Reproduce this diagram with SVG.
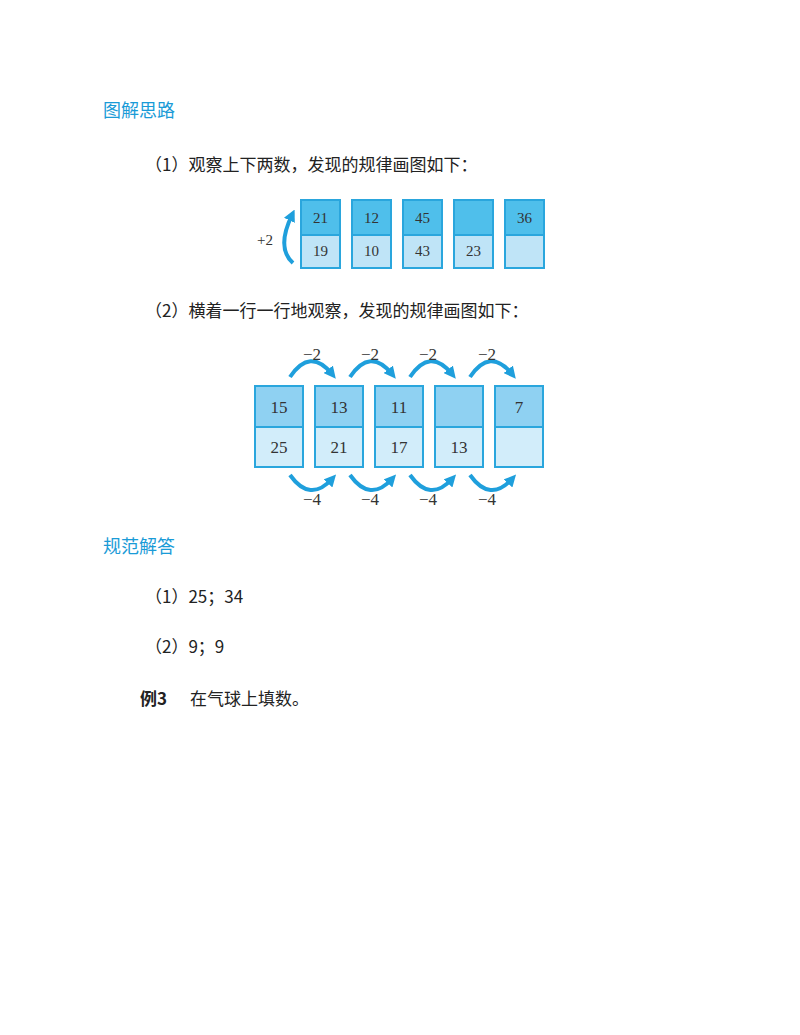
<svg xmlns="http://www.w3.org/2000/svg" width="800" height="1035" viewBox="0 0 800 1035">
<style>
.h{font-family:"Noto Sans CJK SC",sans-serif;font-size:18px;fill:#1a9bd7}
.t{font-family:"Noto Sans CJK SC",sans-serif;font-size:17px;fill:#222}
.n{font-family:"Liberation Serif",serif;font-size:15px;fill:#333;text-anchor:middle}
.m{font-family:"Liberation Serif",serif;font-size:17px;fill:#333;text-anchor:middle}
.a{fill:none;stroke:#1f9fdc;stroke-width:4}
.d1{fill:#4fbfeb;stroke:#2aa6dd;stroke-width:2}
.l1{fill:#bfe4f7;stroke:#2aa6dd;stroke-width:2}
.d2{fill:#8fd1f2;stroke:#2aa6dd;stroke-width:2}
.l2{fill:#d2edfa;stroke:#2aa6dd;stroke-width:2}
</style>
<defs><marker id="ah" viewBox="0 0 10 10" refX="5" refY="5" markerWidth="3" markerHeight="3" orient="auto"><path d="M0,0L10,5L0,10z" fill="#1f9fdc"/></marker></defs>
<rect width="800" height="1035" fill="#fff"/>
<text class="h" x="103" y="117">图解思路</text>
<text class="t" x="145" y="171">（1）观察上下两数，发现的规律画图如下：</text>
<g id="top">
<g id="t1"><rect class="d1" x="301" y="200" width="39" height="35"/><rect class="l1" x="301" y="235" width="39" height="33"/><text class="n" x="320.5" y="223">21</text><text class="n" x="320.5" y="256">19</text></g>
<g id="t2"><rect class="d1" x="352" y="200" width="39" height="35"/><rect class="l1" x="352" y="235" width="39" height="33"/><text class="n" x="371.5" y="223">12</text><text class="n" x="371.5" y="256">10</text></g>
<g id="t3"><rect class="d1" x="403" y="200" width="39" height="35"/><rect class="l1" x="403" y="235" width="39" height="33"/><text class="n" x="422.5" y="223">45</text><text class="n" x="422.5" y="256">43</text></g>
<g id="t4"><rect class="d1" x="454" y="200" width="39" height="35"/><rect class="l1" x="454" y="235" width="39" height="33"/><text class="n" x="473.5" y="256">23</text></g>
<g id="t5"><rect class="d1" x="505" y="200" width="39" height="35"/><rect class="l1" x="505" y="235" width="39" height="33"/><text class="n" x="524.5" y="223">36</text></g>
</g>
<text class="n" x="265" y="245">+2</text>
<text class="t" x="145" y="317">（2）横着一行一行地观察，发现的规律画图如下：</text>
<g id="bottom">
<g id="b1"><rect class="d2" x="255" y="386" width="48" height="41"/><rect class="l2" x="255" y="427" width="48" height="40"/><text class="m" x="279" y="413">15</text><text class="m" x="279" y="453">25</text></g>
<g id="b2"><rect class="d2" x="315" y="386" width="48" height="41"/><rect class="l2" x="315" y="427" width="48" height="40"/><text class="m" x="339" y="413">13</text><text class="m" x="339" y="453">21</text></g>
<g id="b3"><rect class="d2" x="375" y="386" width="48" height="41"/><rect class="l2" x="375" y="427" width="48" height="40"/><text class="m" x="399" y="413">11</text><text class="m" x="399" y="453">17</text></g>
<g id="b4"><rect class="d2" x="435" y="386" width="48" height="41"/><rect class="l2" x="435" y="427" width="48" height="40"/><text class="m" x="459" y="453">13</text></g>
<g id="b5"><rect class="d2" x="495" y="386" width="48" height="41"/><rect class="l2" x="495" y="427" width="48" height="40"/><text class="m" x="519" y="413">7</text></g>
</g>
<g id="connectors">
<path class="a" d="M293,263 Q276,248 292,215" marker-end="url(#ah)"/>
<path class="a" d="M290,377 Q310,347 332,374" marker-end="url(#ah)"/>
<path class="a" d="M350,377 Q370,347 392,374" marker-end="url(#ah)"/>
<path class="a" d="M410,377 Q430,347 452,374" marker-end="url(#ah)"/>
<path class="a" d="M470,377 Q490,347 512,374" marker-end="url(#ah)"/>
<path class="a" d="M290,475 Q310,503 332,479" marker-end="url(#ah)"/>
<path class="a" d="M350,475 Q370,503 392,479" marker-end="url(#ah)"/>
<path class="a" d="M410,475 Q430,503 452,479" marker-end="url(#ah)"/>
<path class="a" d="M470,475 Q490,503 512,479" marker-end="url(#ah)"/>
</g>
<text class="m" x="312" y="360">−2</text><text class="m" x="370" y="360">−2</text><text class="m" x="428" y="360">−2</text><text class="m" x="487" y="360">−2</text>
<text class="m" x="312" y="505">−4</text><text class="m" x="370" y="505">−4</text><text class="m" x="428" y="505">−4</text><text class="m" x="487" y="505">−4</text>
<text class="h" x="103" y="553">规范解答</text>
<text class="t" x="145" y="603">（1）25；34</text>
<text class="t" x="145" y="653">（2）9；9</text>
<text class="t" x="140" y="705" font-weight="bold">例3</text>
<text class="t" x="190" y="705">在气球上填数。</text>
</svg>
